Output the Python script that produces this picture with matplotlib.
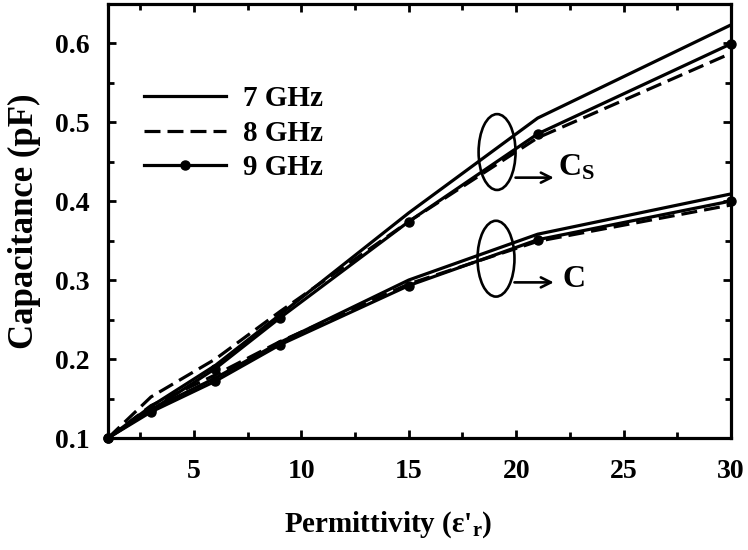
import matplotlib
matplotlib.use('Agg')
import matplotlib.pyplot as plt
from matplotlib.patches import Ellipse
from matplotlib.ticker import MultipleLocator

# ---- data ----
eps = [1, 3, 6, 9, 15, 21, 30]
cs_7ghz = [0.100, 0.140, 0.192, 0.256, 0.385, 0.505, 0.623]
cs_8ghz = [0.100, 0.152, 0.200, 0.260, 0.374, 0.480, 0.587]
cs_9ghz = [0.100, 0.135, 0.188, 0.252, 0.374, 0.485, 0.599]
c_7ghz = [0.100, 0.136, 0.176, 0.221, 0.300, 0.358, 0.409]
c_8ghz = [0.100, 0.141, 0.180, 0.222, 0.295, 0.349, 0.395]
c_9ghz = [0.100, 0.133, 0.172, 0.218, 0.293, 0.351, 0.400]
legend_labels = ['7 GHz', '8 GHz', '9 GHz']
xticks = [5, 10, 15, 20, 25, 30]
yticks = [0.1, 0.2, 0.3, 0.4, 0.5, 0.6]

plt.rcParams['font.family'] = ['Liberation Serif', 'DejaVu Serif']
plt.rcParams['font.weight'] = 'bold'
plt.rcParams['mathtext.fontset'] = 'custom'
plt.rcParams['mathtext.rm'] = 'Liberation Serif:bold'
plt.rcParams['mathtext.it'] = 'Liberation Serif:bold'
plt.rcParams['mathtext.bf'] = 'Liberation Serif:bold'

fig = plt.figure(figsize=(7.48, 5.5), dpi=100)
ax = fig.add_axes([0.1444, 0.2036, 0.8329, 0.790])

lw = 2.3
dash = (5, 2.2)
ax.plot(eps, cs_7ghz, color='k', lw=lw, label=legend_labels[0])
ax.plot(eps, c_7ghz, color='k', lw=lw)
ax.plot(eps, cs_8ghz, color='k', lw=lw, dashes=dash, label=legend_labels[1])
ax.plot(eps, c_8ghz, color='k', lw=lw, dashes=dash)
ax.plot(eps, cs_9ghz, color='k', lw=lw, marker='o', ms=6.5,
        label=legend_labels[2], clip_on=False)
ax.plot(eps, c_9ghz, color='k', lw=lw, marker='o', ms=6.5, clip_on=False)

ax.set_xlim(1, 30)
ax.set_ylim(0.1, 0.65)
ax.set_xticks(xticks)
ax.set_yticks(yticks)
ax.xaxis.set_minor_locator(MultipleLocator(2.5))
ax.yaxis.set_minor_locator(MultipleLocator(0.05))
ax.set_xticklabels([str(t) for t in xticks])
ax.set_yticklabels([f'{t:.1f}' for t in yticks])
ax.tick_params(which='both', direction='in', top=True, right=True,
               width=2, labelsize=20)
ax.tick_params(which='major', length=6)
ax.tick_params(which='minor', length=4)
ax.tick_params(axis='x', pad=15)
ax.tick_params(axis='y', pad=13)
for s in ax.spines.values():
    s.set_linewidth(2.3)

ax.set_xlabel("Permittivity (ε'$_{r}$)", fontsize=21, fontweight='bold')
ax.xaxis.set_label_coords(0.45, -0.165)
ax.set_ylabel('Capacitance (pF)', fontsize=25, fontweight='bold')
ax.yaxis.set_label_coords(-0.108, 0.5)

ax.legend(loc='upper left', bbox_to_anchor=(0.058, 0.812), frameon=False,
          fontsize=21, handlelength=2.8, handletextpad=0.6,
          labelspacing=0.26, borderaxespad=0, borderpad=0)

# group annotations
for (cx, cy, ay, tx, ty, txt) in [
        (19.11, 0.462, 0.4296, 21.95, 0.432, 'C$_{S}$'),
        (19.06, 0.327, 0.297, 22.14, 0.291, 'C')]:
    ax.add_patch(Ellipse((cx, cy), width=1.72, height=0.096, fill=False,
                         lw=1.9, ec='k'))
    ax.annotate('', xy=(21.75, ay), xytext=(cx + 0.86, ay),
                arrowprops=dict(arrowstyle='->', lw=1.9, color='k',
                                mutation_scale=18, shrinkA=0, shrinkB=0))
    ax.text(tx, ty, txt, fontsize=23, fontweight='bold', va='baseline',
            ha='left')

fig.savefig('out.png', dpi=100)
